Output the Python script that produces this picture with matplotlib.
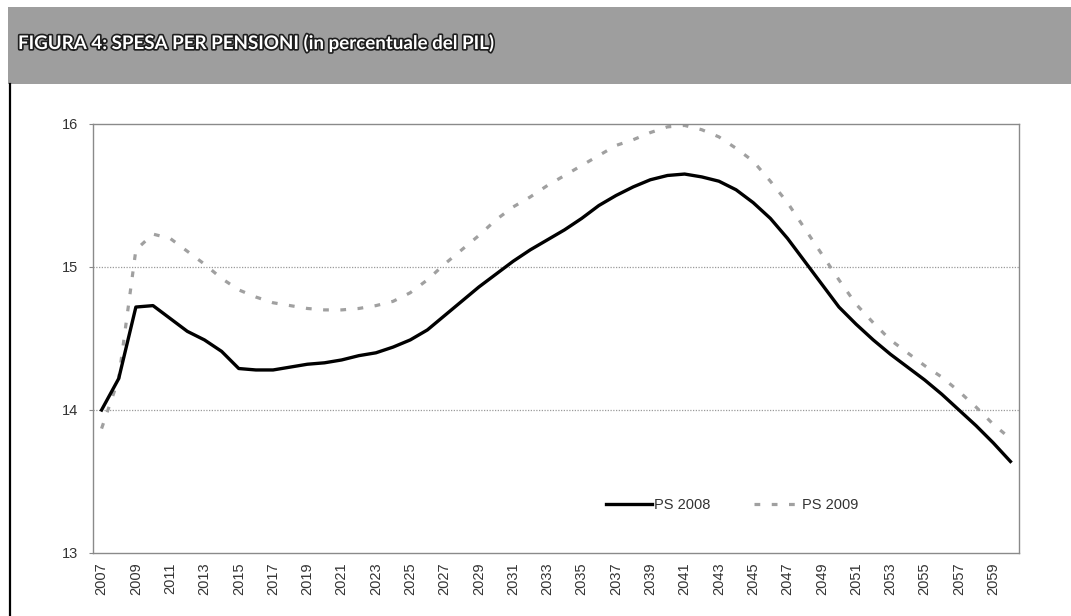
import matplotlib
matplotlib.use("Agg")
import matplotlib.pyplot as plt
import matplotlib.patheffects as pe
from matplotlib.patches import Rectangle
from matplotlib.lines import Line2D

years = list(range(2007, 2061))
ps2008 = [14.00, 14.22, 14.72, 14.73, 14.64, 14.55, 14.49, 14.41, 14.29, 14.28,
          14.28, 14.30, 14.32, 14.33, 14.35, 14.38, 14.40, 14.44, 14.49, 14.56,
          14.66, 14.76, 14.86, 14.95, 15.04, 15.12, 15.19, 15.26, 15.34, 15.43,
          15.50, 15.56, 15.61, 15.64, 15.65, 15.63, 15.60, 15.54, 15.45, 15.34,
          15.20, 15.04, 14.88, 14.72, 14.60, 14.49, 14.39, 14.30, 14.21, 14.11,
          14.00, 13.89, 13.77, 13.64]
ps2009 = [13.87, 14.22, 15.12, 15.23, 15.20, 15.11, 15.02, 14.92, 14.84, 14.79,
          14.75, 14.73, 14.71, 14.70, 14.70, 14.71, 14.73, 14.76, 14.82, 14.91,
          15.02, 15.12, 15.22, 15.33, 15.42, 15.49, 15.57, 15.64, 15.71, 15.78,
          15.85, 15.89, 15.94, 15.98, 15.99, 15.96, 15.91, 15.83, 15.74, 15.60,
          15.45, 15.27, 15.09, 14.91, 14.74, 14.61, 14.49, 14.40, 14.31, 14.23,
          14.13, 14.02, 13.90, 13.80]
series_names = ["PS 2008", "PS 2009"]
title_text = "FIGURA 4: SPESA PER PENSIONI (in percentuale del PIL)"
y_ticks = [13, 14, 15, 16]
x_tick_labels = [str(y) for y in range(2007, 2061, 2)]

W, H = 1071, 616
fig = plt.figure(figsize=(W / 100, H / 100), dpi=100)
fig.patch.set_facecolor("white")

# title bar
fig.patches.append(Rectangle((8 / W, 1 - 84 / H), 1 - 8 / W, 77 / H,
                             transform=fig.transFigure, facecolor="#9e9e9e",
                             edgecolor="none", zorder=0))
t = fig.text(18 / W, 1 - 43 / H, title_text, color="white", fontsize=13.5,
             fontweight="bold", family=["Lato", "DejaVu Sans"],
             va="center", ha="left")
t.set_path_effects([pe.Stroke(linewidth=2.4, foreground="#1e1e1e"), pe.Normal()])

# left frame line
fig.lines.append(Line2D([10 / W, 10 / W], [0, 1 - 84 / H], transform=fig.transFigure,
                        color="black", lw=1.6))

ax = fig.add_axes([93 / W, 1 - 553 / H, (1019 - 93) / W, (553 - 124) / H])
ax.plot(years, ps2008, color="black", lw=2.4, label=series_names[0], zorder=3,
        solid_joinstyle="round")
ax.plot(years, ps2009, color="#a0a0a0", lw=2.3, label=series_names[1], zorder=2,
        dashes=(1.8, 3.6))

ax.set_xlim(2006.5, 2060.5)
ax.set_ylim(13, 16)
ax.set_yticks(y_ticks)
ax.set_yticklabels([str(v) for v in y_ticks])
ax.set_xticks(list(range(2007, 2061, 2)))
ax.set_xticklabels(x_tick_labels, rotation=90)
ax.tick_params(axis="y", length=3, color="#888888", pad=8, labelsize=10.5,
               labelcolor="#333333")
ax.tick_params(axis="x", length=0, pad=7, labelsize=10.5, labelcolor="#333333")
for lab in ax.get_xticklabels() + ax.get_yticklabels():
    lab.set_family("Liberation Sans")

for v in [14, 15]:
    ax.axhline(v, color="#9a9a9a", lw=0.9, ls=(0, (1, 1.2)), zorder=1)
for s in ax.spines.values():
    s.set_color("#8a8a8a")
    s.set_linewidth(1.0)
    s.set_linestyle((0, (1, 1)))

leg = ax.legend(loc="center", bbox_to_anchor=(0.69, 0.112), ncol=2, frameon=False,
                handlelength=3.2, handletextpad=0.1, columnspacing=3.0,
                prop={"family": "Liberation Sans", "size": 10.5})
for txt in leg.get_texts():
    txt.set_color("#333333")

fig.savefig("out.png", dpi=100, facecolor="white")
